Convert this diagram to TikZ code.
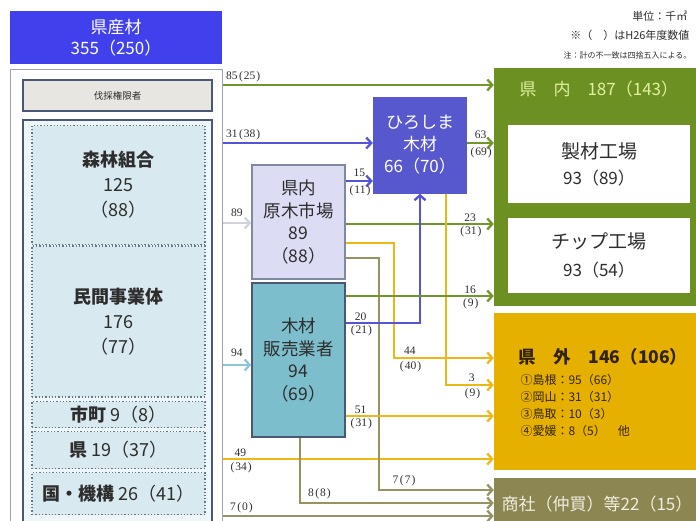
\documentclass[tikz,border=0pt]{standalone}
\usepackage{fontspec}
\usepackage{tikz}
\usetikzlibrary{calc, arrows.meta}
\setmainfont{Noto Sans CJK JP}
\newfontfamily\numfont{Liberation Serif}
\newcommand{\pval}[1]{\hspace{1.5pt}(\hspace{1pt}#1\hspace{1pt})}

\definecolor{srcblue}{RGB}{64,64,236}
\definecolor{hiroblue}{RGB}{88,88,206}
\definecolor{ichibafill}{RGB}{220,220,245}
\definecolor{hanbaifill}{RGB}{124,190,204}
\definecolor{forestfill}{RGB}{216,234,240}
\definecolor{cutfill}{RGB}{232,230,224}
\definecolor{framegray}{RGB}{74,88,118}
\definecolor{dotgray}{RGB}{100,118,138}
\definecolor{txtgray}{RGB}{45,45,45}
\definecolor{kennaigreen}{RGB}{108,144,34}
\definecolor{kennaitext}{RGB}{226,240,160}
\definecolor{kengaiyellow}{RGB}{230,176,0}
\definecolor{kengaitext}{RGB}{50,36,0}
\definecolor{shoshaolive}{RGB}{140,134,82}
\definecolor{shoshatext}{RGB}{240,238,222}
\definecolor{lineblue}{RGB}{84,84,212}
\definecolor{lineolive}{RGB}{150,146,98}
\definecolor{lineyellow}{RGB}{236,184,20}
\definecolor{linegreen}{RGB}{112,150,44}
\definecolor{linegray}{RGB}{208,210,222}
\definecolor{lineteal}{RGB}{140,198,214}

\begin{document}
\begin{tikzpicture}[x=1pt, y=-1pt]

    \tikzstyle{panel}=[rectangle, inner sep=0pt, align=center, text=txtgray];
    \tikzstyle{dotbox}=[panel, draw=dotgray, dotted, line width=1.3pt, fill=forestfill, minimum width=173pt];
    \tikzstyle{flow}=[line width=2.3pt, -{Straight Barb[length=5pt, width=11pt]}];
    \tikzstyle{lbl}=[font=\numfont\fontsize{11.5}{12}\selectfont, text=txtgray, inner sep=0.5pt];
    \tikzstyle{bigtxt}=[font=\fontsize{17}{22}\selectfont];

    \useasboundingbox (0,0) rectangle (696,520);
    \clip (0,0) rectangle (696,520);

    % notes
    \node[anchor=east, text=txtgray, font=\fontsize{11}{12}\selectfont] (unit) at (691,16) {単位：千㎥};
    \node[anchor=east, text=txtgray, font=\fontsize{11}{12}\selectfont] (note1) at (693,35) {※（　）はH26年度数値};
    \node[anchor=east, text=txtgray, font=\fontsize{8}{9}\selectfont] (note2) at (695,55) {注：計の不一致は四捨五入による。};

    % source side
    \node[panel, fill=srcblue, text=white, minimum width=212pt, minimum height=53pt, font=\fontsize{17}{21}\selectfont] (src) at (116,37.5) {県産材\\355（250）};
    \node[panel, draw=framegray!55, line width=1pt, minimum width=212pt, minimum height=460pt] (outer) at (116,299) {};
    \node[panel, draw=framegray, line width=1.8pt, fill=cutfill, minimum width=189pt, minimum height=31pt, font=\fontsize{9.5}{10}\selectfont] (cut) at (117.5,95.5) {伐採権限者};
    \node[panel, draw=framegray, line width=1.8pt, fill=forestfill!45, minimum width=189pt, minimum height=409pt] (grp) at (117.5,324.5) {};

    \node[dotbox, minimum height=119pt, font=\fontsize{18}{25}\selectfont] (shinrin) at (118.5,185) {\textbf{森林組合}\\125\\（88）};
    \node[dotbox, minimum height=151pt, font=\fontsize{18}{25}\selectfont] (minkan) at (118.5,321.5) {\textbf{民間事業体}\\176\\（77）};
    \node[dotbox, minimum height=26pt, font=\fontsize{18}{20}\selectfont] (shicho) at (118.5,414.5) {\textbf{市町} 9（8）};
    \node[dotbox, minimum height=37pt, font=\fontsize{18}{20}\selectfont] (ken) at (118.5,450) {\textbf{県} 19（37）};
    \node[dotbox, minimum height=42pt, font=\fontsize{18}{20}\selectfont] (kuni) at (118.5,493.5) {\textbf{国・機構} 26（41）};

    % middle
    \node[panel, draw=framegray!70, line width=1.5pt, fill=ichibafill, minimum width=93pt, minimum height=114pt, font=\fontsize{17.5}{22.5}\selectfont] (ichiba) at (298.5,222) {県内\\原木市場\\89\\（88）};
    \node[panel, draw=framegray, line width=1.5pt, fill=hanbaifill, minimum width=93pt, minimum height=154pt, font=\fontsize{17.5}{22.5}\selectfont] (hanbai) at (298.5,360) {木材\\販売業者\\94\\（69）};
    \node[panel, fill=hiroblue, text=white, minimum width=94pt, minimum height=97pt, bigtxt] (hiro) at (420,145) {ひろしま\\木材\\66（70）};

    % destinations
    \node[panel, fill=kennaigreen, minimum width=206pt, minimum height=238pt] (kennai) at (597,187) {};
    \node[anchor=west, text=kennaitext, font=\fontsize{17}{18}\selectfont] (kennaititle) at (516,89) {県　内　187（143）};
    \node[panel, fill=white, minimum width=182pt, minimum height=78pt, font=\fontsize{19}{26}\selectfont] (seizai) at (599,164) {製材工場\\{\fontsize{17}{18}\selectfont 93（89）}};
    \node[panel, fill=white, minimum width=182pt, minimum height=75pt, font=\fontsize{19}{28}\selectfont] (chip) at (599,255.5) {チップ工場\\{\fontsize{17}{18}\selectfont 93（54）}};

    \node[panel, fill=kengaiyellow, minimum width=206pt, minimum height=157pt] (kengai) at (597,391.5) {};
    \node[anchor=west, text=kengaitext, font=\bfseries\fontsize{17.5}{18}\selectfont] (kengaititle) at (515,357) {県　外　146（106）};
    \node[anchor=north west, align=left, text=kengaitext, font=\fontsize{12}{17}\selectfont] (kengailist) at (517,371) {①島根：95（66）\\②岡山：31（31）\\③鳥取：10（3）\\④愛媛：8（5）　他};

    \node[panel, fill=shoshaolive, text=shoshatext, minimum width=206pt, minimum height=52pt, font=\fontsize{17}{18}\selectfont] (shosha) at (597,504) {商社（仲買）等22（15）};

    % flows from the source
    \draw[flow, linegreen] (outer.east |- 0,85) -- node[lbl, pos=0, anchor=south west, xshift=2pt, yshift=1.5pt] {85\pval{25}} (kennai.west |- 0,85);
    \draw[flow, lineblue] (outer.east |- 0,143) -- node[lbl, pos=0, anchor=south west, xshift=2pt, yshift=1.5pt] {31\pval{38}} (hiro.west |- 0,143);
    \draw[flow, linegray] (outer.east |- 0,223) -- node[lbl, midway, above, yshift=5pt] {89} (ichiba.west |- 0,223);
    \draw[flow, lineteal] (outer.east |- 0,365) -- node[lbl, midway, above, yshift=7pt] {94} (hanbai.west |- 0,365);
    \draw[flow, lineyellow] (outer.east |- 0,459) -- node[lbl, pos=0.066, above, yshift=1pt] {49} node[lbl, pos=0.066, below, yshift=-2pt] {\pval{34}} (kengai.west |- 0,459);
    \draw[flow, lineolive] (outer.east |- 0,516) -- node[lbl, pos=0.07, above, yshift=1pt] {7\pval{0}} (shosha.west |- 0,516);

    % flows from the log market
    \draw[flow, lineblue] (ichiba.east |- 0,181) -- node[lbl, midway, above, yshift=3pt] {15} node[lbl, midway, below, yshift=-3pt] {\pval{11}} (hiro.west |- 0,181);
    \draw[flow, linegreen] (ichiba.east |- 0,224) -- node[lbl, pos=0.84, above, yshift=1pt] {23} node[lbl, pos=0.84, below, yshift=-1pt] {\pval{31}} (kennai.west |- 0,224);
    \draw[flow, lineyellow] (ichiba.east |- 0,243) -- ++(48,0) |- node[lbl, pos=0.58, above, yshift=2pt] {44} node[lbl, pos=0.58, below, yshift=-2pt] {\pval{40}} (kengai.west |- 0,358);
    \draw[flow, lineolive] (ichiba.east |- 0,258) -- ++(33,0) |- node[lbl, pos=0.61, above, yshift=2pt] {7\pval{7}} (shosha.west |- 0,490);

    % flows from hiroshima
    \draw[flow, linegreen] (hiro.east |- 0,143) -- node[lbl, midway, above, yshift=3pt] {63} node[lbl, midway, below, yshift=-3pt] {\pval{69}} (kennai.west |- 0,143);
    \draw[flow, lineyellow] (hiro.south -| 446,0) |- node[lbl, pos=0.77, above, yshift=2pt] {3} node[lbl, pos=0.77, below, yshift=-2pt] {\pval{9}} (kengai.west |- 0,385);

    % flows from the dealers
    \draw[flow, lineblue] (hanbai.east |- 0,323) -| node[lbl, pos=0.1, above, yshift=1pt] {20} node[lbl, pos=0.1, below, yshift=-1pt] {\pval{21}} (hiro.south);
    \draw[flow, linegreen] (hanbai.east |- 0,296) -- node[lbl, pos=0.84, above, yshift=1pt] {16} node[lbl, pos=0.84, below, yshift=-1pt] {\pval{9}} (kennai.west |- 0,296);
    \draw[flow, lineyellow] (hanbai.east |- 0,416) -- node[lbl, pos=0.1, above, yshift=1pt] {51} node[lbl, pos=0.1, below, yshift=-1pt] {\pval{31}} (kengai.west |- 0,416);
    \draw[flow, lineolive] ([xshift=1.5pt]hanbai.south) |- node[lbl, pos=0.55, above, yshift=2pt] {8\pval{8}} (shosha.west |- 0,503);

\end{tikzpicture}
\end{document}
